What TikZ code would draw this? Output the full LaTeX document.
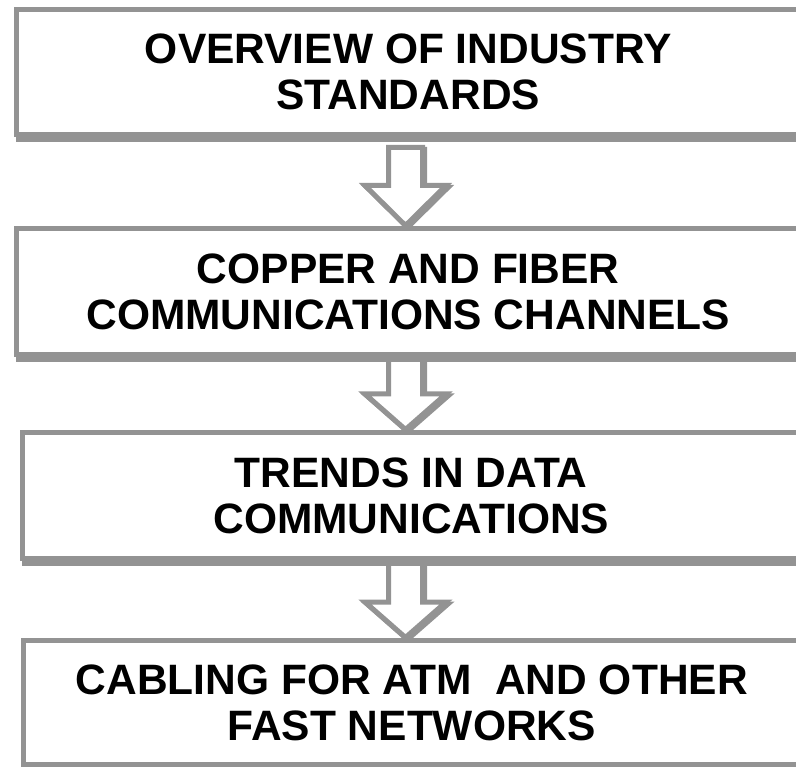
\documentclass[tikz,border=0pt]{standalone}
\usepackage{fontspec}
\setmainfont{Liberation Sans}
\usetikzlibrary{shadows,calc}
\pgfdeclarelayer{bg}
\pgfsetlayers{bg,main}
\definecolor{bordergray}{RGB}{147,147,147}
\newcommand{\blkarrow}[4]{%
  \draw[barrow] ($(#1.south -| ax)+(-17,#3)$) -- ++(34,0)
    -- ($(#2.north -| ax)+(17,#4)$) -- ++(23.5,0)
    -- ($(#2.north -| ax)+(0,-3)$)
    -- ($(#2.north -| ax)+(-40.5,#4)$) -- ++(23.5,0) -- cycle;}
\begin{document}
\begin{tikzpicture}[x=1pt,y=-1pt,
  box/.style={draw=bordergray, line width=5pt, fill=white, rectangle,
    outer sep=0pt, inner sep=0pt, anchor=north west, align=center,
    font=\fontsize{42.5}{46}\selectfont\bfseries,
    drop shadow={shadow xshift=2pt, shadow yshift=-5pt, fill=bordergray,
      draw=bordergray, line width=5pt, opacity=1}},
  barrow/.style={draw=bordergray, line width=5pt, fill=white, line join=miter,
    drop shadow={shadow xshift=2pt, shadow yshift=-2pt, fill=bordergray,
      draw=bordergray, line width=5pt, opacity=1}}]
\useasboundingbox (0,0) rectangle (796,767);
\coordinate (ax) at (405.5,0);
\node[box, minimum width=783.5, minimum height=125] (b1) at (16.5,9.5)
  {OVERVIEW OF INDUSTRY\\STANDARDS};
\node[box, minimum width=783.5, minimum height=126] (b2) at (16.5,228.5)
  {COPPER AND FIBER\\COMMUNICATIONS CHANNELS};
\node[box, minimum width=777.5, minimum height=126] (b3) at (22.5,432.5)
  {TRENDS IN DATA\\COMMUNICATIONS};
\node[box, minimum width=776.5, minimum height=124] (b4) at (23.5,640.5)
  {CABLING FOR ATM\ \ AND OTHER\\FAST NETWORKS};
\begin{pgfonlayer}{bg}
  \blkarrow{b1}{b2}{13}{-43}
  \blkarrow{b2}{b3}{-10}{-38.5}
  \blkarrow{b3}{b4}{-10}{-38.5}
\end{pgfonlayer}
\end{tikzpicture}
\end{document}
